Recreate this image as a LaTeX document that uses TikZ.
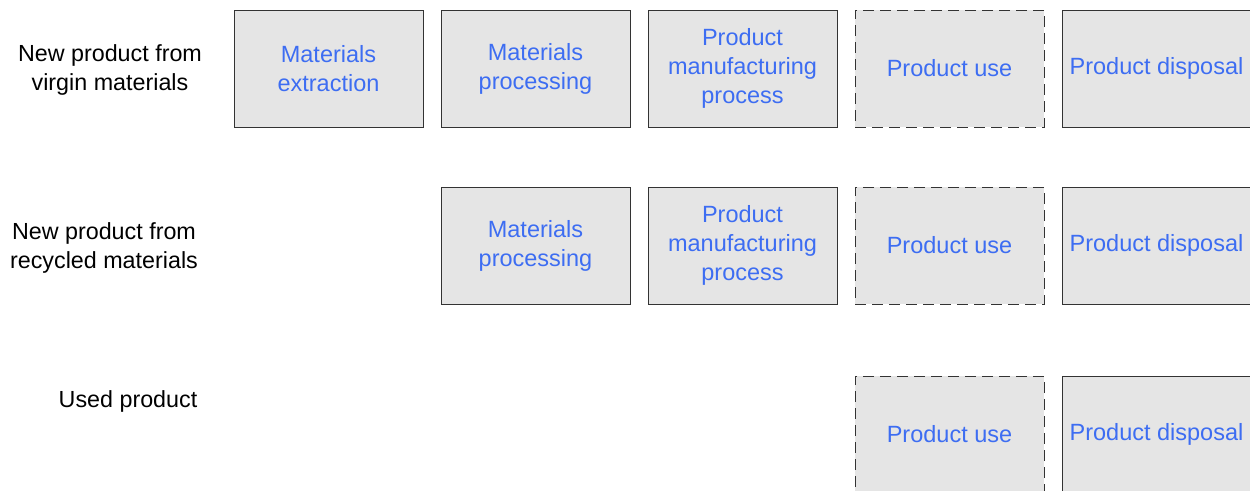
\documentclass[tikz,border=0pt]{standalone}
\usepackage{fontspec}
\setmainfont{Liberation Sans}
\definecolor{boxfill}{HTML}{E5E5E5}
\definecolor{boxline}{HTML}{333333}
\definecolor{stagetext}{HTML}{3D6DF2}
\tikzset{
  stagebox/.style={draw=boxline, line width=0.9pt, fill=boxfill, minimum width=189pt, minimum height=117pt, inner sep=0pt, align=center, text=stagetext, font=\fontsize{23.5}{29}\selectfont},
  usebox/.style={stagebox, dash pattern=on 11pt off 6pt},
  rowlabel/.style={align=center, text=black, font=\fontsize{23.3}{29}\selectfont}
}
\begin{document}
\begin{tikzpicture}[x=1pt,y=-1pt]
\useasboundingbox (0,0) rectangle (1250,490);
\clip (0,0) rectangle (1250,490);
% row labels
\node[rowlabel] (l1) at (110,70) {New product from\\virgin materials};
\node[rowlabel] (l2) at (104,248) {New product from\\recycled materials};
\node[rowlabel] (l3) at (128,401) {Used product};
% row 1
\node[stagebox] (a1) at (328.5,68.5) {Materials\\extraction};
\node[stagebox] (a2) at (535.5,68.5) {Materials\\processing};
\node[stagebox] (a3) at (742.5,68.5) {Product\\manufacturing\\process};
\node[usebox] (a4) at (949.5,68.5) {Product use};
\node[stagebox] (a5) at (1156.5,68.5) {Product disposal};
% row 2
\node[stagebox] (b2) at (535.5,245.5) {Materials\\processing};
\node[stagebox] (b3) at (742.5,245.5) {Product\\manufacturing\\process};
\node[usebox] (b4) at (949.5,245.5) {Product use};
\node[stagebox] (b5) at (1156.5,245.5) {Product disposal};
% row 3
\node[usebox] (c4) at (949.5,434.5) {Product use};
\node[stagebox] (c5) at (1156.5,434.5) {Product disposal};
\end{tikzpicture}
\end{document}
